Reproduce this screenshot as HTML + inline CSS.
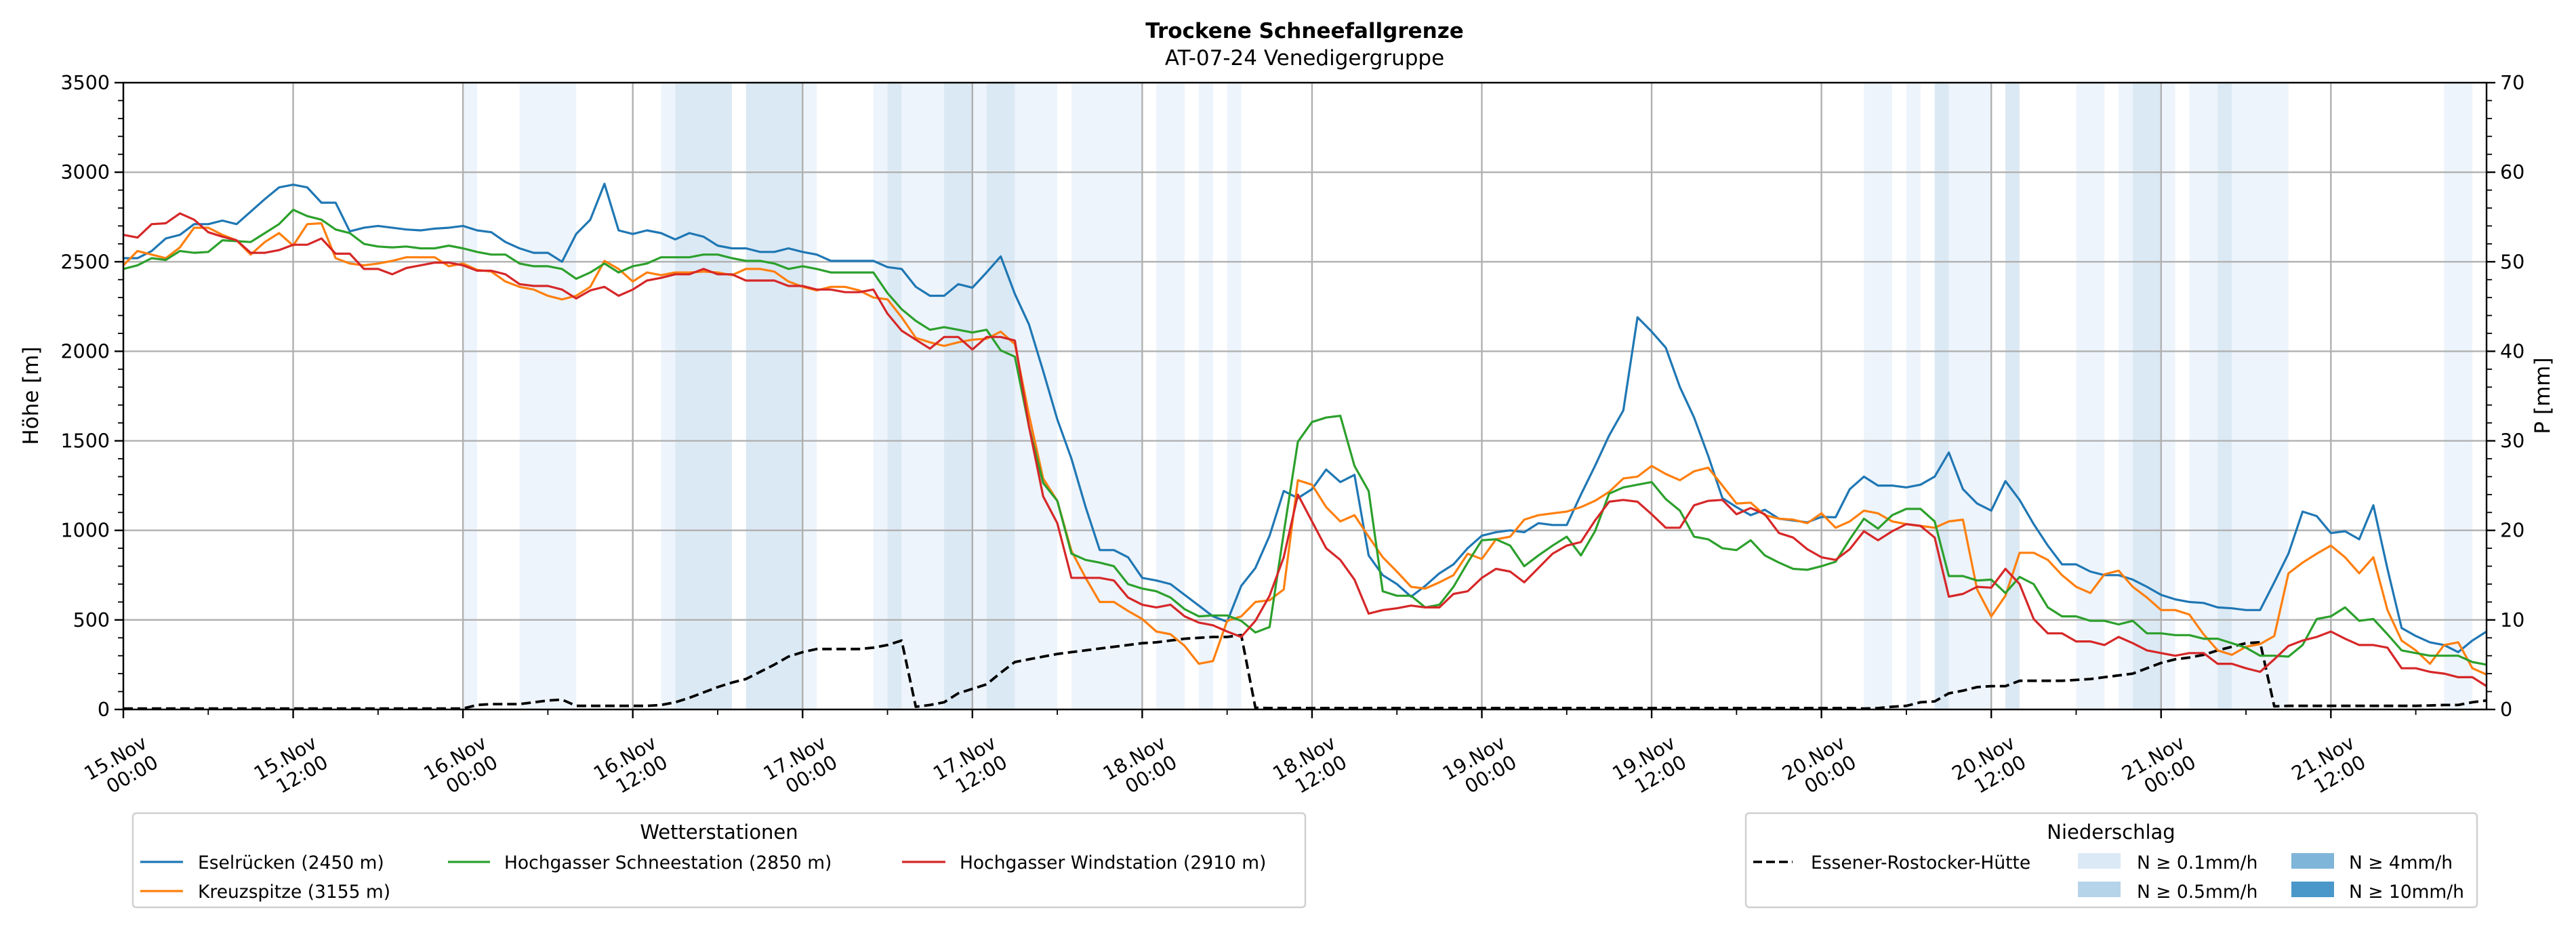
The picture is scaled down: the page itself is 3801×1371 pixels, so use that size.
<!DOCTYPE html>
<html><head><meta charset="utf-8"><style>
html,body{margin:0;padding:0;background:#fff;}
svg{display:block;font-family:"DejaVu Sans","Liberation Sans",sans-serif;}
</style></head><body>
<svg id="chart" width="3801" height="1371" viewBox="0 0 3801 1371" xmlns="http://www.w3.org/2000/svg">
<rect width="3801" height="1371" fill="#fff"/>
<text x="1925" y="56" font-size="31" font-weight="bold" text-anchor="middle">Trockene Schneefallgrenze</text>
<text x="1925" y="96" font-size="31" text-anchor="middle">AT-07-24 Venedigergruppe</text>
<g id="bands"></g>
<g id="grid"></g>
<g id="series"></g>
<g id="axes"></g>
<text transform="translate(56,584) rotate(-90)" font-size="31" text-anchor="middle">Höhe [m]</text>
<text transform="translate(3762,584) rotate(-90)" font-size="31" text-anchor="middle">P [mm]</text>

<g>
<rect x="196" y="1200" width="1730" height="139" rx="5" fill="#fff" stroke="#d0d0d0" stroke-width="2.5"/>
<text x="1061" y="1238" font-size="29" text-anchor="middle">Wetterstationen</text>
<g><line x1="207" y1="1272" x2="270" y2="1272" stroke="#1f77b4" stroke-width="3.2"/><text x="292" y="1282" font-size="26.5">Eselrücken (2450 m)</text></g>
<g><line x1="207" y1="1315" x2="270" y2="1315" stroke="#ff7f0e" stroke-width="3.2"/><text x="292" y="1325" font-size="26.5">Kreuzspitze (3155 m)</text></g>
<g><line x1="661" y1="1272" x2="723" y2="1272" stroke="#2ca02c" stroke-width="3.2"/><text x="744" y="1282" font-size="26.5">Hochgasser Schneestation (2850 m)</text></g>
<g><line x1="1331" y1="1272" x2="1395" y2="1272" stroke="#d62728" stroke-width="3.2"/><text x="1416" y="1282" font-size="26.5">Hochgasser Windstation (2910 m)</text></g>
</g>
<g>
<rect x="2576" y="1200" width="1079" height="139" rx="5" fill="#fff" stroke="#d0d0d0" stroke-width="2.5"/>
<text x="3115" y="1238" font-size="29" text-anchor="middle">Niederschlag</text>
<g><line x1="2587" y1="1272" x2="2645" y2="1272" stroke="#000" stroke-width="3.6" stroke-dasharray="13,6"/><text x="2672" y="1282" font-size="26.5">Essener-Rostocker-Hütte</text></g>
<g><rect x="3066" y="1259" width="63" height="23" fill="#dbe9f6"/><text x="3153" y="1282" font-size="26.5">N ≥ 0.1mm/h</text></g>
<g><rect x="3066" y="1301" width="63" height="23" fill="#b6d4e9"/><text x="3153" y="1325" font-size="26.5">N ≥ 0.5mm/h</text></g>
<g><rect x="3381" y="1259" width="63" height="23" fill="#7fb5d9"/><text x="3466" y="1282" font-size="26.5">N ≥ 4mm/h</text></g>
<g><rect x="3381" y="1301" width="63" height="23" fill="#4a98c9"/><text x="3466" y="1325" font-size="26.5">N ≥ 10mm/h</text></g>
</g>
</svg>
<script>
const eselruecken=[2520,2520,2560,2630,2650,2710,2710,2730,2710,2780,2850,2915,2930,2915,2830,2830,2670,2690,2700,2690,2680,2675,2685,2690,2700,2675,2665,2610,2575,2550,2550,2500,2655,2735,2935,2675,2655,2675,2660,2625,2660,2640,2590,2575,2575,2555,2555,2575,2555,2540,2505,2505,2505,2505,
2470,2460,2360,2310,2310,2375,2355,2440,2530,2320,2150,1890,1620,1400,1130,890,890,850,735,720,700,640,580,520,490,690,790,970,1220,1180,1230,1340,1270,1310,860,750,700,630,690,760,810,900,970,990,1000,990,1040,1030,1030,1200,1360,1530,1670,2190,2110,2020,1800,1630,1415,1180,
1130,1085,1115,1065,1055,1045,1075,1073,1230,1300,1250,1250,1240,1255,1300,1435,1230,1150,1110,1275,1170,1035,915,810,810,770,750,750,725,685,640,615,600,595,570,565,555,555,710,870,1105,1080,985,995,950,1140,785,455,410,375,360,320,385,435];
const kreuzspitze=[2480,2560,2540,2520,2580,2690,2690,2650,2620,2540,2610,2660,2590,2710,2715,2520,2490,2480,2490,2505,2525,2525,2525,2475,2490,2455,2445,2390,2360,2345,2310,2290,2310,2360,2505,2460,2390,2440,2425,2440,2440,2445,2440,2425,2460,2460,2445,2390,2360,2340,2360,2360,2340,2300,
2290,2190,2075,2050,2030,2050,2065,2070,2110,2040,1645,1290,1165,885,735,600,600,550,505,435,420,355,255,270,495,520,600,610,670,1280,1255,1130,1050,1085,965,850,770,685,675,710,750,870,840,950,965,1060,1085,1095,1105,1130,1165,1215,1290,1300,1360,1315,1280,
1330,1350,1250,1150,1155,1085,1065,1060,1040,1095,1015,1050,1110,1095,1050,1035,1025,1015,1050,1060,670,520,635,875,875,835,750,685,650,755,775,685,625,555,555,530,420,330,305,350,365,410,760,820,870,915,850,760,850,555,385,330,255,360,375,230,195];
const schneestation=[2460,2480,2520,2510,2560,2550,2555,2620,2615,2610,2660,2710,2790,2755,2735,2680,2660,2600,2585,2580,2585,2575,2575,2590,2575,2555,2540,2540,2490,2475,2475,2460,2405,2440,2490,2440,2475,2490,2525,2525,2525,2540,2540,2520,2505,2505,2490,2460,2475,2460,2440,2440,2440,2440,
2325,2235,2170,2120,2135,2120,2105,2120,2005,1970,1580,1265,1165,870,835,820,800,700,675,660,625,560,520,525,525,495,430,460,985,1495,1605,1630,1640,1360,1220,660,635,635,570,585,685,820,945,950,915,800,860,915,965,860,995,1205,1240,1255,1270,1175,1110,
965,950,900,890,945,860,820,785,780,800,825,950,1065,1010,1085,1120,1120,1050,745,745,720,725,650,740,700,570,520,520,495,495,475,495,425,425,415,415,395,395,370,345,300,300,295,360,505,520,570,495,505,420,330,315,300,300,300,265,250];
const windstation=[2650,2635,2710,2715,2770,2735,2665,2640,2620,2550,2550,2565,2595,2595,2630,2545,2545,2460,2460,2430,2465,2480,2495,2495,2480,2450,2450,2430,2375,2365,2365,2345,2295,2340,2360,2310,2345,2395,2410,2430,2430,2460,2430,2430,2395,2395,2395,2365,2365,2345,2345,2330,2330,2345,
2210,2115,2065,2015,2080,2080,2010,2080,2080,2060,1580,1190,1040,735,735,735,720,625,585,570,585,520,485,470,435,405,495,635,850,1200,1050,900,835,725,535,555,565,580,570,570,645,660,735,785,770,710,790,870,915,935,1055,1160,1170,1160,1090,1015,1015,
1140,1165,1170,1090,1125,1090,985,960,895,850,835,895,995,945,995,1035,1025,960,630,645,685,680,785,700,505,425,425,380,380,360,405,370,330,315,300,315,315,255,255,230,210,280,355,385,405,435,395,360,360,345,230,230,210,200,180,180,130];
const precipSum=[0.1,0.1,0.1,0.1,0.1,0.1,0.1,0.1,0.1,0.1,0.1,0.1,0.1,0.1,0.1,0.1,0.1,0.1,0.1,0.1,0.1,0.1,0.1,0.1,0.1,
0.5,0.6,0.6,0.6,0.8,1.0,1.1,0.4,0.4,0.4,0.4,0.4,0.4,0.5,0.8,1.3,1.9,2.5,3.0,3.4,4.2,5.0,5.9,6.4,6.75,6.75,6.75,6.75,6.9,7.2,7.7,
0.3,0.5,0.8,1.8,2.3,2.8,4.1,5.3,5.6,5.9,6.2,6.4,6.6,6.8,7.0,7.2,7.4,7.5,7.7,7.9,8.0,8.1,8.1,8.3,
0.2,0.15,0.15,0.15,0.15,0.15,0.15,0.15,0.15,0.15,0.15,0.15,0.15,0.15,0.15,0.15,0.15,0.15,0.15,0.15,0.15,0.15,0.15,0.15,0.15,0.15,0.15,0.15,0.15,0.15,0.15,0.15,0.15,0.15,0.15,0.15,0.15,0.15,0.15,0.15,0.15,0.15,0.15,
0.1,0.15,0.3,0.4,0.8,0.9,1.8,2.1,2.5,2.6,2.6,3.2,3.2,3.2,3.2,3.3,3.4,3.6,3.8,4.0,4.6,5.2,5.6,5.8,6.1,6.6,7.0,7.4,7.5,
0.35,0.4,0.4,0.4,0.4,0.4,0.4,0.4,0.4,0.4,0.4,0.45,0.5,0.5,0.8,1.0];
const bandStart=[24,28,38,39,44,48,53,54,55,58,60,61,63,67,73,76,78,123,126,128,129,133,138,141,142,144,146,148,149,164];
const bandEnd  =[25,32,39,43,48,49,54,55,58,60,61,63,66,72,75,77,79,125,127,129,132,134,140,142,144,145,148,149,153,166];
const bandLevel=[1,1,1,2,2,1,1,2,1,2,1,2,1,1,1,1,1,1,1,2,1,2,1,1,2,1,1,2,1,1];
const yTicks=[0,500,1000,1500,2000,2500,3000,3500];
const y2Ticks=[0,10,20,30,40,50,60,70];
const xTickHours=[0,12,24,36,48,60,72,84,96,108,120,132,144,156];
const xTickLine1=["15.Nov","15.Nov","16.Nov","16.Nov","17.Nov","17.Nov","18.Nov","18.Nov","19.Nov","19.Nov","20.Nov","20.Nov","21.Nov","21.Nov"];
const xTickLine2=["00:00","12:00","00:00","12:00","00:00","12:00","00:00","12:00","00:00","12:00","00:00","12:00","00:00","12:00"];

const L=182,R=3669,T=122,B=1047,HMAX=167,YMAX=3500,PMAX=70;
const NS="http://www.w3.org/2000/svg";
function X(h){return L+h*(R-L)/HMAX;}
function Y(v){return B-v*(B-T)/YMAX;}
function Y2(p){return B-p*(B-T)/PMAX;}
function mk(tag,attrs,parent){const e=document.createElementNS(NS,tag);for(const k in attrs)e.setAttribute(k,attrs[k]);parent.appendChild(e);return e;}
const gB=document.getElementById('bands'),gG=document.getElementById('grid'),gS=document.getElementById('series'),gA=document.getElementById('axes');
const bandColors=["#fff","#edf4fb","#dbe9f4","#bfdaec","#a4cbe4"];
for(let i=0;i<bandStart.length;i++){
  const r=mk('rect',{x:X(bandStart[i]),y:T,width:X(bandEnd[i])-X(bandStart[i]),height:B-T,fill:bandColors[bandLevel[i]]},gB);
  
  
}
yTicks.forEach(v=>{const l=mk('line',{x1:L,x2:R,y1:Y(v),y2:Y(v),stroke:'#b0b0b0','stroke-width':2.4},gG);
  
  });
xTickHours.forEach(h=>{const l=mk('line',{x1:X(h),x2:X(h),y1:T,y2:B,stroke:'#b0b0b0','stroke-width':2.4},gG);
  
  });
function drawLine(arr,color,name,scale,dash){
  const pts=arr.map((v,i)=>X(i).toFixed(1)+','+scale(v).toFixed(1)).join(' ');
  const p=mk('polyline',{points:pts,fill:'none',stroke:color,'stroke-width':dash?3.8:3.2,'stroke-linejoin':'round'},gS);
  if(dash)p.setAttribute('stroke-dasharray','14,7');
  
  
}
drawLine(precipSum,'#000','precip-line',Y2,true);
drawLine(eselruecken,'#1f77b4','eselruecken-line',Y,false);
drawLine(kreuzspitze,'#ff7f0e','kreuzspitze-line',Y,false);
drawLine(schneestation,'#2ca02c','schneestation-line',Y,false);
drawLine(windstation,'#d62728','windstation-line',Y,false);
const fr=mk('rect',{x:L,y:T,width:R-L,height:B-T,fill:'none',stroke:'#000','stroke-width':2.4},gA);


for(let v=0;v<=YMAX;v+=100){const maj=v%500===0;mk('line',{x1:L,x2:L-(maj?13:8),y1:Y(v),y2:Y(v),stroke:'#000','stroke-width':maj?2.4:1.8},gA);}
for(let p=0;p<=PMAX;p+=2){const maj=p%10===0;mk('line',{x1:R,x2:R+(maj?13:8),y1:Y2(p),y2:Y2(p),stroke:'#000','stroke-width':maj?2.4:1.8},gA);}
for(let h=0;h<=HMAX;h+=6){const maj=h%12===0;mk('line',{x1:X(h),x2:X(h),y1:B,y2:B+(maj?13:8),stroke:'#000','stroke-width':maj?2.4:1.8},gA);}
yTicks.forEach(v=>{const t=mk('text',{x:L-20,y:Y(v)+10,'font-size':28.5,'text-anchor':'end'},gA);t.textContent=v;
  
  });
y2Ticks.forEach(p=>{const t=mk('text',{x:R+20,y:Y2(p)+10,'font-size':28.5},gA);t.textContent=p;
  
  });
xTickHours.forEach((h,i)=>{const g=mk('g',{transform:`translate(${X(h)+37},1102) rotate(-30)`},gA);
  
  
  const a=mk('text',{x:0,y:0,'font-size':28.5,'text-anchor':'end'},g);a.textContent=xTickLine1[i];
  const b=mk('text',{x:0,y:33,'font-size':28.5,'text-anchor':'end'},g);b.textContent=xTickLine2[i];});
</script>
</body></html>
